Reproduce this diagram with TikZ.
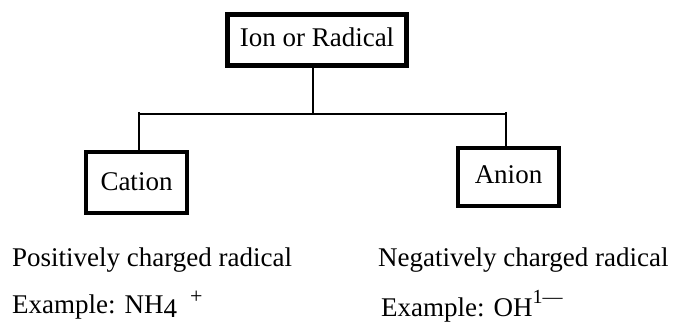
\documentclass[tikz,border=0pt]{standalone}
\usepackage{fontspec}
\setmainfont{Liberation Serif}
\begin{document}
\begin{tikzpicture}[x=1pt,y=-1pt,
  every node/.style={font=\fontsize{27}{32}\selectfont, inner sep=0pt},
  box/.style={draw, rectangle, minimum width=101pt, minimum height=61pt, line width=4pt},
  conn/.style={line width=1.3pt}]
\useasboundingbox (0,0) rectangle (673,323);
\node[box, line width=5pt, minimum width=179pt, minimum height=51pt, text height=18pt, text depth=4pt] (ion) at (317,40) {Ion or Radical};
\node[box, minimum height=61pt, text height=18pt, text depth=1pt] (cation) at (136.5,182.5) {Cation};
\node[box, minimum height=58pt, text height=18pt, text depth=4pt] (anion) at (508.5,177) {Anion};
\coordinate (mid) at (313,114);
\coordinate (hl) at (139,114);
\coordinate (hr) at (506,114);
\draw[conn] (ion.south -| mid) -- (mid);
\draw[conn] (hl) -- (hr);
\draw[conn] ([yshift=2pt]hl) -- (hl |- cation.north);
\draw[conn] ([yshift=2pt]hr) -- ([yshift=-4pt]hr |- anion.north);
\node[anchor=base west] (pos) at (12,267) {Positively charged radical};
\node[anchor=base west] (neg) at (378,267) {Negatively charged radical};
\node[anchor=base west] (exa) at (12,314) {Example: NH\raisebox{-4pt}{4}\hspace{13pt}\raisebox{10pt}{\fontsize{22}{22}\selectfont +}};
\node[anchor=base west] (exb) at (381,317) {Example: OH\raisebox{13pt}{\fontsize{20}{20}\selectfont 1\textemdash}};
\end{tikzpicture}
\end{document}
